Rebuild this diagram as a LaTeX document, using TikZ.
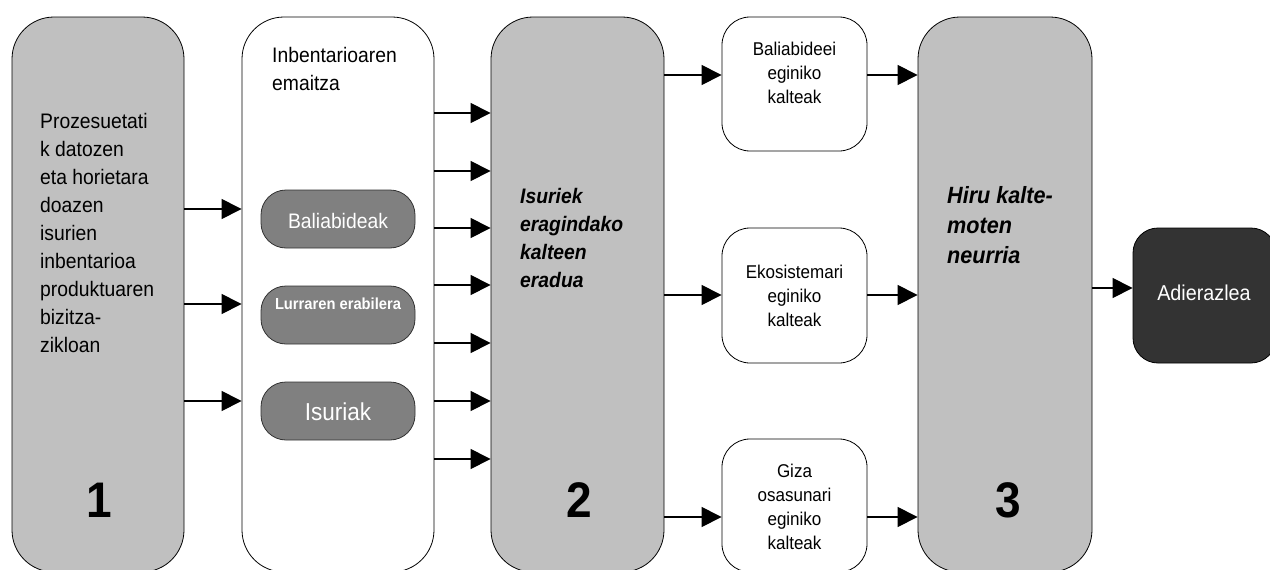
\documentclass[tikz,border=0pt]{standalone}
\usepackage{fontspec}
\setmainfont{Liberation Sans}[FakeStretch=0.92]
\usetikzlibrary{arrows.meta}
\definecolor{boxgray}{HTML}{C0C0C0}
\definecolor{innergray}{HTML}{808080}
\definecolor{darkbox}{HTML}{333333}
\tikzset{
  bigbox/.style={draw=black, line width=0.8pt, rounded corners=42pt, minimum width=#1, minimum height=555pt, inner sep=0pt},
  smallbox/.style={draw=black, fill=white, line width=0.8pt, rounded corners=28pt, minimum width=145pt, inner sep=0pt},
  innerbox/.style={draw=black!80, fill=innergray, line width=0.8pt, rounded corners=25pt, minimum width=154pt, minimum height=58pt, inner sep=0pt},
  arr/.style={line width=1.1pt, -{Triangle[length=20pt,width=20pt]}},
  bodytext/.style={anchor=north west, align=left, inner sep=0pt, font=\fontsize{21}{28}\selectfont},
  smalltext/.style={anchor=north, align=center, inner sep=0pt, font=\fontsize{18.5}{24.2}\selectfont},
  numtext/.style={anchor=base, inner sep=0pt, font=\fontsize{50}{55}\selectfont\bfseries},
}
\begin{document}
\begin{tikzpicture}[x=1pt, y=-1pt]
\useasboundingbox (0,0) rectangle (1270,570);
\clip (0,0) rectangle (1270,570);
% main boxes
\node[bigbox=172pt, fill=boxgray] (b1) at (98,294.5) {};
\node[bigbox=192pt, fill=white] (b2) at (338,294.5) {};
\node[bigbox=173pt, fill=boxgray] (b3) at (577.5,294.5) {};
\node[bigbox=174pt, fill=boxgray] (b4) at (1005,294.5) {};
% small boxes
\node[smallbox, minimum height=134pt] (sa) at (794.5,84) {};
\node[smallbox, minimum height=135pt] (sb) at (794.5,295.5) {};
\node[smallbox, minimum height=133pt] (sc) at (794.5,505.5) {};
% indicator
\node[draw=black, fill=darkbox, line width=0.8pt, rounded corners=25pt, minimum width=143pt, minimum height=135pt, inner sep=0pt] (ind) at (1204.5,295.5) {};
% inner boxes
\node[innerbox] (ib1) at (338,219) {};
\node[innerbox] (ib2) at (338,315) {};
\node[innerbox] (ib3) at (338,411) {};
% texts
\node[bodytext] (t1) at (40,108.4) {\strut Prozesuetati\\k datozen\\eta horietara\\doazen\\isurien\\inbentarioa\\produktuaren\\bizitza-\\zikloan};
\node[bodytext] (t2) at (272,42.4) {\strut Inbentarioaren\\emaitza};
\node[bodytext, font=\fontsize{21}{28}\selectfont\bfseries\itshape] (t3) at (520,183.4) {\strut Isuriek\\eragindako\\kalteen\\eradua};
\node[bodytext, font=\fontsize{23.5}{30}\selectfont\bfseries\itshape] (t4) at (947,182) {\strut Hiru kalte-\\moten\\neurria};
\node[smalltext] (ta) at (794.5,38.2) {\strut Baliabideei\\eginiko\\kalteak};
\node[smalltext] (tb) at (794.5,261) {\strut Ekosistemari\\eginiko\\kalteak};
\node[smalltext] (tc) at (794.5,460) {\strut Giza\\osasunari\\eginiko\\kalteak};
\node[anchor=base, inner sep=0pt, text=white, font=\fontsize{21}{25}\selectfont] (ti1) at (338,228) {Baliabideak};
\node[anchor=base, inner sep=0pt, text=white, font=\fontsize{16}{20}\selectfont\bfseries] (ti2) at (338,309) {Lurraren erabilera};
\node[anchor=base, inner sep=0pt, text=white, font=\fontsize{24.5}{28}\selectfont] (ti3) at (338,420) {Isuriak};
\node[anchor=base, inner sep=0pt, text=white, font=\fontsize{21.5}{25}\selectfont] (tind) at (1204,300) {Adierazlea};
\node[numtext] (n1) at (99,517) {1};
\node[numtext] (n2) at (579,517) {2};
\node[numtext] (n3) at (1008,517) {3};
% arrows box1 -> box2
\foreach \y [count=\i] in {209,304,401} {
  \coordinate (ra\i) at (0,\y);
  \draw[arr] (b1.east |- ra\i) -- (b2.west |- ra\i);
}
% arrows box2 -> box3
\foreach \y [count=\i] in {113,171,228,285,343,401,459} {
  \coordinate (rb\i) at (0,\y);
  \draw[arr] (b2.east |- rb\i) -- (b3.west |- rb\i);
}
% arrows box3 -> small boxes -> box4
\coordinate (rc1) at (0,75);
\coordinate (rc2) at (0,295);
\coordinate (rc3) at (0,517);
\draw[arr] (b3.east |- rc1) -- (sa.west |- rc1);
\draw[arr] (b3.east |- rc2) -- (sb.west |- rc2);
\draw[arr] (b3.east |- rc3) -- (sc.west |- rc3);
\draw[arr] (sa.east |- rc1) -- (b4.west |- rc1);
\draw[arr] (sb.east |- rc2) -- (b4.west |- rc2);
\draw[arr] (sc.east |- rc3) -- (b4.west |- rc3);
% box4 -> indicator
\coordinate (rd) at (0,288);
\draw[arr] (b4.east |- rd) -- (ind.west |- rd);
\end{tikzpicture}
\end{document}
